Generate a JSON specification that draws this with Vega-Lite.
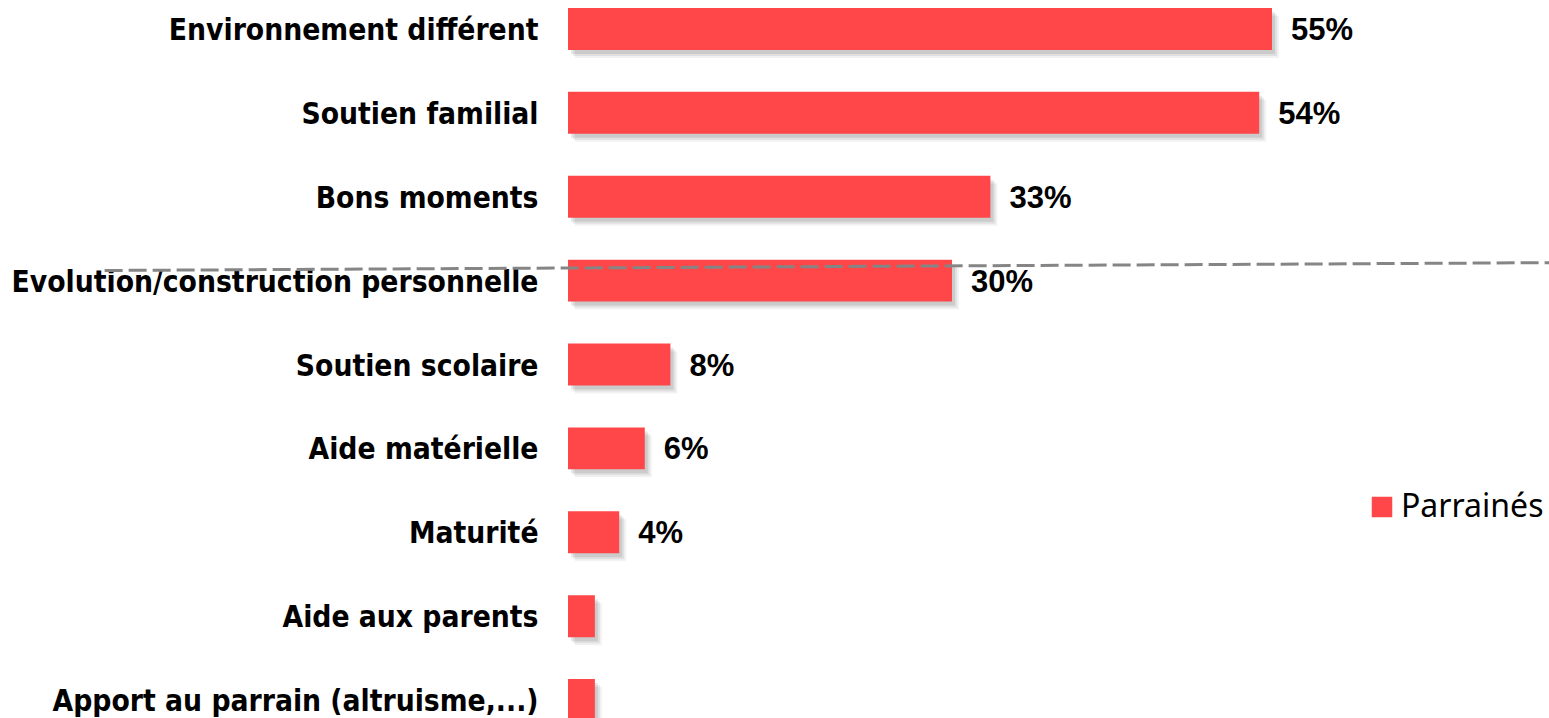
{
  "$schema": "https://vega.github.io/schema/vega-lite/v6.json",
  "width": 981,
  "height": 729,
  "autosize": "none",
  "padding": {"left": 568, "top": 0, "right": 0, "bottom": 0},
  "background": "white",
  "config": {"view": {"stroke": null}},
  "resolve": {"scale": {"y": "independent"}, "axis": {"y": "independent"}},
  "layer": [
    {
      "data": {"name": "bars", "values": [
        {"cat": "Environnement différent", "value": 55, "label": "55%", "series": "Parrainés"},
        {"cat": "Soutien familial", "value": 54, "label": "54%", "series": "Parrainés"},
        {"cat": "Bons moments", "value": 33, "label": "33%", "series": "Parrainés"},
        {"cat": "Evolution/construction personnelle", "value": 30, "label": "30%", "series": "Parrainés"},
        {"cat": "Soutien scolaire", "value": 8, "label": "8%", "series": "Parrainés"},
        {"cat": "Aide matérielle", "value": 6, "label": "6%", "series": "Parrainés"},
        {"cat": "Maturité", "value": 4, "label": "4%", "series": "Parrainés"},
        {"cat": "Aide aux parents", "value": 2.1, "label": "", "series": "Parrainés"},
        {"cat": "Apport au parrain (altruisme,...)", "value": 2.1, "label": "", "series": "Parrainés"}
      ]},
      "encoding": {
        "y": {
          "field": "cat", "type": "nominal", "sort": null,
          "scale": {"paddingInner": 0.5, "paddingOuter": 0.095},
          "axis": {
            "title": null, "domain": false, "ticks": false,
            "labelFont": "DejaVu Sans Condensed", "labelFontWeight": "bold",
            "labelFontSize": 29.7, "labelColor": "#000000", "labelPadding": 30, "labelLimit": 0,
            "labelOffset": 2
          }
        },
        "x": {"field": "value", "type": "quantitative", "scale": {"domain": [0, 76.64]}, "axis": null}
      },
      "layer": [
        {"mark": {"type": "bar", "color": "#000000", "opacity": 0.05, "xOffset": 7, "yOffset": 8}},
        {"mark": {"type": "bar", "color": "#000000", "opacity": 0.07, "xOffset": 5, "yOffset": 6}},
        {"mark": {"type": "bar", "color": "#000000", "opacity": 0.09, "xOffset": 3, "yOffset": 4}},
        {
          "mark": {"type": "bar"},
          "encoding": {
            "color": {
              "field": "series", "type": "nominal",
              "scale": {"range": ["#FF4749"]},
              "legend": {
                "title": null, "orient": "none", "legendX": 798, "legendY": 491,
                "padding": 0, "symbolType": "square", "symbolSize": 420,
                "symbolStrokeWidth": 0, "symbolOpacity": 1,
                "labelFont": "Noto Sans", "labelFontSize": 32, "labelColor": "#000000",
                "labelOffset": 3
              }
            }
          }
        },
        {
          "mark": {"type": "text", "align": "left", "baseline": "middle", "dx": 19, "dy": 2,
                   "font": "Liberation Sans", "fontWeight": "bold", "fontSize": 31, "color": "#000000"},
          "encoding": {"text": {"field": "label"}}
        }
      ]
    },
    {
      "data": {"values": [{"xa": -36.2, "xb": 76.64, "ya": 2.878, "yb": 2.785}]},
      "mark": {"type": "rule", "color": "#858585", "strokeWidth": 3, "strokeDash": [18, 6]},
      "encoding": {
        "x": {"field": "xa", "type": "quantitative", "scale": {"domain": [0, 76.64]}},
        "x2": {"field": "xb"},
        "y": {"field": "ya", "type": "quantitative", "scale": {"domain": [-0.346, 8.343], "reverse": true, "nice": false, "zero": false}, "axis": null},
        "y2": {"field": "yb"}
      }
    }
  ]
}
